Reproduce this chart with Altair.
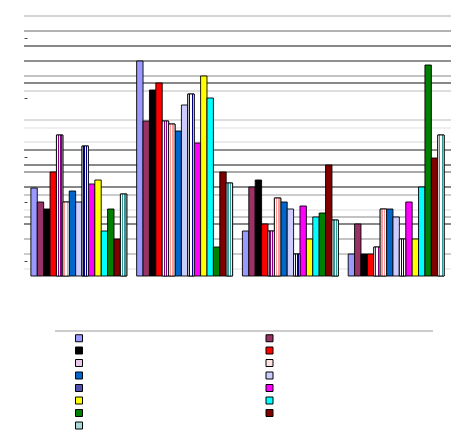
import altair as alt
import pandas as pd

groups = ["G1", "G2", "G3", "G4"]
series = [f"S{i:02d}" for i in range(1, 16)]

# bar heights per series, one value for each of the 4 groups
values = {
    "S01": [88, 215, 45, 22],
    "S02": [74, 155, 89, 52],
    "S03": [67, 186, 96, 22],
    "S04": [104, 193, 52, 22],
    "S05": [141, 155, 45, 29],
    "S06": [74, 152, 78, 67],
    "S07": [85, 145, 74, 67],
    "S08": [74, 171, 67, 59],
    "S09": [130, 182, 22, 37],
    "S10": [92, 133, 70, 74],
    "S11": [96, 200, 37, 37],
    "S12": [45, 178, 59, 89],
    "S13": [67, 29, 63, 211],
    "S14": [37, 104, 111, 118],
    "S15": [82, 93, 56, 141],
}
colors = ["#9999FF", "#993366", "#000000", "#FF0000", "#E8C8E8", "#FFE4E4",
          "#0066CC", "#CCCCFF", "#5050B0", "#FF00FF", "#FFFF00", "#00FFFF",
          "#008000", "#800000", "#A8D8D8"]

grid_vals = [260, 245, 230, 215, 200, 193, 185, 156, 148, 134, 126, 111, 104,
             89, 81, 66, 59, 52, 37, 22, 7]
grid_cols = ["#aaaaaa", "#666666", "#111111", "#222222", "#888888", "#111111",
             "#bbbbbb", "#bbbbbb", "#e0e0e0", "#d8d8d8", "#222222", "#111111",
             "#555555", "#111111", "#999999", "#dddddd", "#888888", "#111111",
             "#888888", "#999999", "#e0e0e0"]
tick_vals = [238, 178, 119, 74, 15]

rows = []
for s in series:
    for g, v in zip(groups, values[s]):
        rows.append({"group": g, "series": s, "value": v})
df = pd.DataFrame(rows)
grid_df = pd.DataFrame({"y": grid_vals, "c": grid_cols})

x_enc = alt.X("group:N", sort=groups, axis=None,
              scale=alt.Scale(paddingInner=0.093, paddingOuter=0.065))
xo_enc = alt.XOffset("series:N", sort=series, scale=alt.Scale(domain=series, paddingInner=0, paddingOuter=0))
y_enc = alt.Y("value:Q", scale=alt.Scale(domain=[0, 260], nice=False, zero=True),
              axis=alt.Axis(values=tick_vals, labels=False, domain=False, grid=False,
                            ticks=True, tickSize=3, tickColor="#444", offset=-3, title=None))

grid = alt.Chart(grid_df).mark_rule(strokeWidth=1.2).encode(
    y=alt.Y("y:Q", scale=alt.Scale(domain=[0, 260], nice=False)),
    color=alt.Color("c:N", scale=None),
)

bars = alt.Chart(df).mark_bar(stroke="#000000", strokeWidth=0.9, opacity=1).encode(
    x=x_enc, xOffset=xo_enc, y=y_enc,
    fill=alt.Fill("series:N", sort=series,
                  scale=alt.Scale(domain=series, range=colors),
                  legend=alt.Legend(orient="none", legendX=51, legendY=318, columns=2,
                                    direction="horizontal",
                                    title=None, labelExpr="''", labelFontSize=7, labelOffset=0,
                                    symbolType="square", symbolSize=49,
                                    symbolStrokeColor="#000000", symbolStrokeWidth=1,
                                    columnPadding=178.5, rowPadding=0.5, padding=0)),
)

def stripes(c1, c2, n):
    stops = []
    for i in range(n):
        a, b = i / n, (i + 1) / n
        col = c1 if i % 2 else c2
        stops.append(alt.GradientStop(color=col, offset=a))
        stops.append(alt.GradientStop(color=col, offset=b))
    return alt.LinearGradient(gradient="linear", stops=stops, x1=0, x2=1, y1=0, y2=0)

def overlay(sname, grad):
    return alt.Chart(df).transform_filter(alt.datum.series == sname).mark_bar(
        fill=grad, stroke="#000000", strokeWidth=0.9).encode(x=x_enc, xOffset=xo_enc, y=y_enc)

o5 = overlay("S05", stripes("#800080", "#ffffff", 5))
o6 = overlay("S06", stripes("#FF9999", "#ffffff", 5))
o9 = overlay("S09", stripes("#000080", "#ffffff", 5))
o15 = overlay("S15", stripes("#339999", "#ffffff", 5))

sep = alt.Chart(grid_df).mark_rule(color="#cccccc", strokeWidth=1.2).encode(
    x=alt.value(31), x2=alt.value(409), y=alt.value(315))

chart = alt.layer(grid, bars, o5, o6, o9, o15, sep).properties(
    width=427, height=260,
    autosize=alt.AutoSizeParams(type="none"),
    padding={"left": 16, "top": 8, "right": 0, "bottom": 160},
).configure_view(stroke=None)

chart.save("out.html", embed_options={"renderer": "svg", "actions": False})
